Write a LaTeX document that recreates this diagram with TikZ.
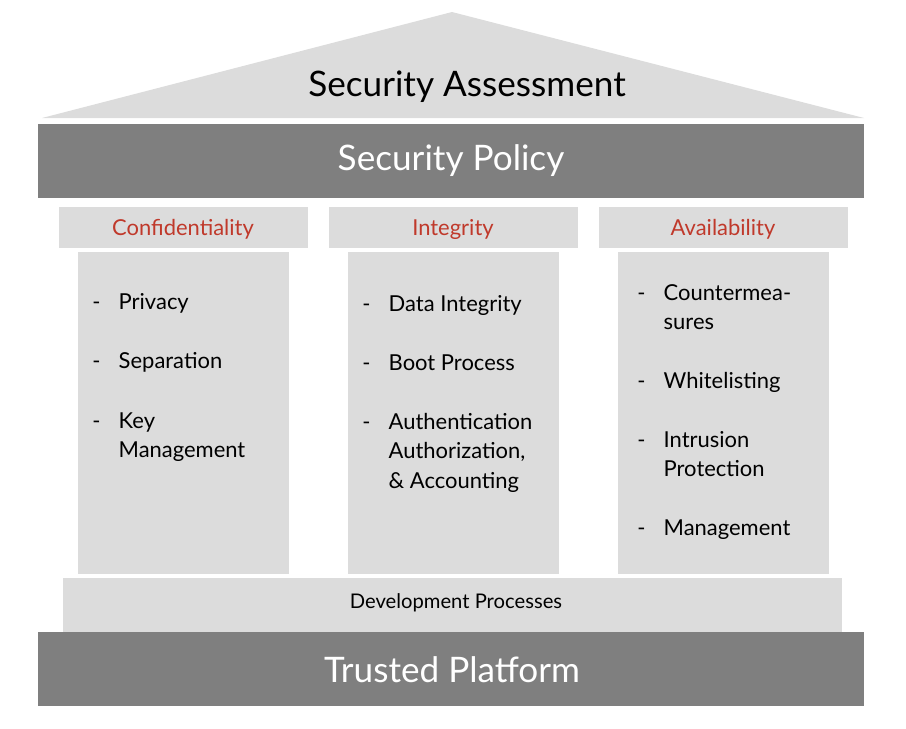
\documentclass[tikz,border=0pt]{standalone}
\usepackage{fontspec}
\setmainfont{Lato}
\definecolor{lightgr}{HTML}{DCDCDC}
\definecolor{darkgr}{HTML}{7F7F7F}
\definecolor{redtxt}{HTML}{C0392B}
\newcommand{\itm}[1]{\makebox[15pt][l]{-}\parbox[t]{5cm}{\baselineskip=17pt #1}}
\begin{document}
\begin{tikzpicture}[x=0.02cm,y=-0.02cm,
    every node/.style={inner sep=0pt},
    light/.style={fill=lightgr},
    dark/.style={fill=darkgr},
    head/.style={text=redtxt, font=\fontsize{12.5}{15}\selectfont},
    item/.style={anchor=base west, align=left, font=\fontsize{12.5}{17}\selectfont},
    ]
\useasboundingbox (0,0) rectangle (906,728);
% roof
\fill[light] (42,118) -- (452,12) -- (864,118) -- cycle;
\node (assess) at (467,87) {\fontsize{20}{24}\selectfont Security Assessment};
\fill[dark] (38,124) rectangle (864,198);
\node[text=white] (policy) at (451,161) {\fontsize{20}{24}\selectfont Security Policy};
% headers and pillars
\foreach \x/\name/\txt in {59/conf/Confidentiality, 329/integ/Integrity, 599/avail/Availability}{
  \fill[light] (\x,207) rectangle ++(249,41);
  \fill[light] (\x+19,252) rectangle ++(211,322);
  \node[head] (\name) at (\x+124,229) {\txt};
}
\node[item] (privacy) at (92,309) {\itm{Privacy}};
\node[item] (separation) at (92,368) {\itm{Separation}};
\node[item] (keymgmt) at (92,428) {\itm{Key\\Management}};
\node[item] (dataint) at (362,311) {\itm{Data Integrity}};
\node[item] (boot) at (362,370) {\itm{Boot Process}};
\node[item] (aaa) at (362,429) {\itm{Authentication\\Authorization,\\\& Accounting}};
\node[item] (counter) at (637,300) {\itm{Countermea-\\sures}};
\node[item] (white) at (637,388) {\itm{Whitelisting}};
\node[item] (intrusion) at (637,447) {\itm{Intrusion\\Protection}};
\node[item] (mgmt) at (637,535) {\itm{Management}};
% base
\fill[light] (63,578) rectangle (842,632);
\node (devproc) at (456,603) {\fontsize{11.5}{14}\selectfont Development Processes};
\fill[dark] (38,632) rectangle (864,706);
\node[text=white] (trusted) at (452,670) {\fontsize{20}{24}\selectfont Trusted Platform};
\end{tikzpicture}
\end{document}
